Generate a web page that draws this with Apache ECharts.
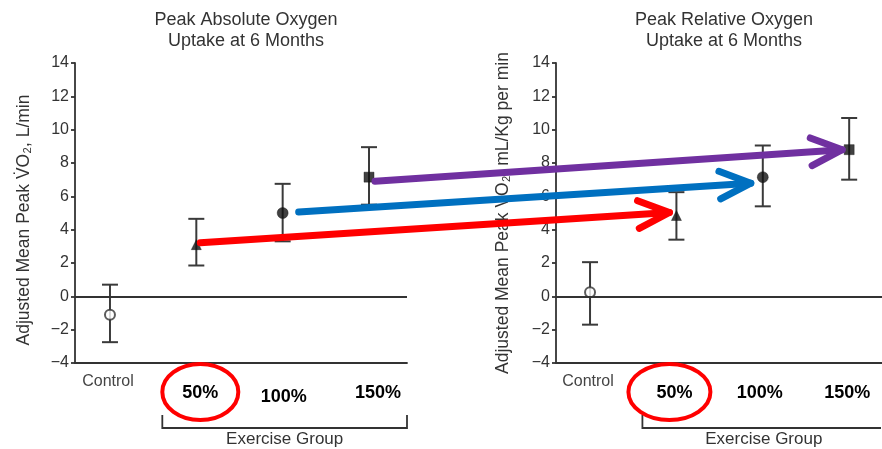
<!DOCTYPE html>
<html>
<head>
<meta charset="utf-8">
<script src="https://cdn.jsdelivr.net/npm/echarts@6/dist/echarts.min.js"></script>
<style>
  html, body { margin: 0; padding: 0; background: #fff; }
  #chart { width: 882px; height: 449px; }
</style>
</head>
<body>
<div id="chart"></div>
<script>
// Groups along the x axis
const groups = ['Control', '50%', '100%', '150%'];

// Peak absolute oxygen uptake (L/min): adjusted mean and 95% CI
const absMean = [-1.1, 3.1, 5.0, 7.15];
const absLow  = [-2.75, 1.85, 3.3, 5.5];
const absHigh = [0.7, 4.65, 6.75, 8.95];

// Peak relative oxygen uptake (mL/Kg per min): adjusted mean and 95% CI
const relMean = [0.25, 4.85, 7.15, 8.8];
const relLow  = [-1.7, 3.4, 5.4, 7.0];
const relHigh = [2.05, 6.25, 9.05, 10.7];

// y axis scale
const yMin = -4, yMax = 14, yStep = 2;

const FONT = '"Liberation Sans", Arial, Helvetica, sans-serif';
const INK = '#333';
const markerSymbols = ['circle', 'triangle', 'circle', 'rect'];
const markerSizes = [10, 10, 11, 10];

const chart = echarts.init(document.getElementById('chart'), null, { renderer: 'canvas' });

function yAxisDef(gridIndex, name, gap, pad) {
  return {
    type: 'value', gridIndex, min: yMin, max: yMax, interval: yStep,
    name, nameLocation: 'middle', nameGap: gap, nameRotate: 90,
    nameTextStyle: { fontFamily: FONT, fontSize: 17.5, color: INK, padding: pad },
    axisLine: { show: true, onZero: false, lineStyle: { color: INK, width: 1.8 } },
    axisTick: { show: true, length: 4, lineStyle: { color: INK, width: 1.8 } },
    axisLabel: {
      fontFamily: FONT, fontSize: 16, color: INK, margin: 6,
      formatter: v => String(v).replace('-', '\u2212')
    },
    splitLine: { show: false }
  };
}

function xAxisDef(gridIndex, min, max) {
  return {
    type: 'value', gridIndex, min, max,
    axisLine: { show: true, onZero: false, lineStyle: { color: INK, width: 1.8 } },
    axisTick: { show: false }, axisLabel: { show: false }, splitLine: { show: false }
  };
}

function errorSeries(idx, low, high) {
  return {
    type: 'custom', xAxisIndex: idx, yAxisIndex: idx, silent: true, z: 2,
    data: low.map((l, i) => [i, l, high[i]]),
    encode: { x: 0, y: [1, 2] },
    renderItem(params, api) {
      const x = api.value(0);
      const lo = api.coord([x, api.value(1)]);
      const hi = api.coord([x, api.value(2)]);
      const w = 8;
      const st = { stroke: '#3a3a3a', lineWidth: 2 };
      return {
        type: 'group',
        children: [
          { type: 'line', shape: { x1: lo[0], y1: lo[1], x2: hi[0], y2: hi[1] }, style: st },
          { type: 'line', shape: { x1: hi[0] - w, y1: hi[1], x2: hi[0] + w, y2: hi[1] }, style: st },
          { type: 'line', shape: { x1: lo[0] - w, y1: lo[1], x2: lo[0] + w, y2: lo[1] }, style: st }
        ]
      };
    }
  };
}

function markerSeries(idx, mean) {
  return {
    type: 'scatter', xAxisIndex: idx, yAxisIndex: idx, silent: true, z: 3,
    data: mean.map((v, i) => ({
      value: [i, v],
      symbol: markerSymbols[i],
      symbolSize: markerSizes[i],
      itemStyle: i === 0
        ? { color: '#fff', borderColor: INK, borderWidth: 2 }
        : { color: '#111', borderColor: '#111', borderWidth: 0.5 }
    })),
    markLine: {
      silent: true, symbol: 'none', label: { show: false },
      lineStyle: { color: INK, width: 1.8, type: 'solid' },
      data: [{ yAxis: 0 }]
    }
  };
}

chart.setOption({
  animation: false,
  backgroundColor: '#fff',
  title: [
    { text: 'Peak Absolute Oxygen\nUptake at 6 Months', left: 241, top: 5, textAlign: 'center',
      textStyle: { fontFamily: FONT, fontSize: 18, fontWeight: 'normal', color: INK, lineHeight: 21 } },
    { text: 'Peak Relative Oxygen\nUptake at 6 Months', left: 719, top: 5, textAlign: 'center',
      textStyle: { fontFamily: FONT, fontSize: 18, fontWeight: 'normal', color: INK, lineHeight: 21 } }
  ],
  grid: [
    { left: 75, right: 475, top: 63, bottom: 86 },
    { left: 556, right: 0, top: 63, bottom: 86 }
  ],
  xAxis: [xAxisDef(0, -0.405, 3.44), xAxisDef(1, -0.394, 3.38)],
  yAxis: [
    yAxisDef(0, 'Adjusted Mean Peak V\u0307O\u2082, L/min', 42, [0, 14, 0, 0]),
    yAxisDef(1, 'Adjusted Mean Peak V\u0307O\u2082, mL/Kg per min', 44, 0)
  ],
  series: [
    errorSeries(0, absLow, absHigh), markerSeries(0, absMean),
    errorSeries(1, relLow, relHigh), markerSeries(1, relMean)
  ]
});

// ---- annotations placed from the axes' own scales ----
const px = (g, x, y) => chart.convertToPixel({ gridIndex: g }, [x, y]);
const graphics = [];

// group labels under each panel
const labelNudge = [[[0, 0], [4, 0], [1, 4], [9, 0]], [[0, 0], [-2, 0], [-3, 0], [-2, 0]]];
[0, 1].forEach(g => {
  groups.forEach((name, i) => {
    const p = px(g, i, yMin);
    const n = labelNudge[g][i];
    const isCtrl = i === 0;
    graphics.push({
      type: 'text', z: 10,
      x: p[0] - 2 * (isCtrl ? 1 : 0) + n[0], y: p[1] + (isCtrl ? 19 : 30) + n[1],
      style: {
        text: name, fontFamily: FONT,
        fontSize: isCtrl ? 16 : 18, fontWeight: isCtrl ? 'normal' : 'bold',
        fill: isCtrl ? '#444' : '#000', align: 'center', verticalAlign: 'middle'
      }
    });
  });
  // bracket spanning the exercise groups
  const a = px(g, 1, yMin);
  const rightEdge = g === 0 ? px(g, 3.44, yMin)[0] : 881;
  const bx = a[0] - 34, by = a[1] + 65;
  graphics.push({
    type: 'polyline', z: 10,
    shape: { points: g === 0
      ? [[bx, by - 13], [bx, by], [rightEdge, by], [rightEdge, by - 13]]
      : [[bx, by - 13], [bx, by], [rightEdge, by]] },
    style: { stroke: INK, lineWidth: 1.8, fill: null }
  });
  graphics.push({
    type: 'text', z: 10, x: px(g, 2, yMin)[0] + (g === 0 ? 2 : 1), y: by + 11,
    style: { text: 'Exercise Group', fontFamily: FONT, fontSize: 17, fill: INK,
      align: 'center', verticalAlign: 'middle' }
  });
  // red ring around the 50% label
  const r = px(g, 1, yMin);
  graphics.push({
    type: 'ellipse', z: 11,
    shape: { cx: r[0] + (g === 0 ? 4 : -7), cy: r[1] + 29, rx: g === 0 ? 38 : 41, ry: 28 },
    style: { stroke: '#ff0000', lineWidth: 4, fill: null }
  });
});

// arrows linking each exercise group across the two panels
function arrow(from, to, color) {
  const dx = to[0] - from[0], dy = to[1] - from[1];
  const len = Math.hypot(dx, dy);
  const bx = -dx / len, by = -dy / len;
  const th = 24 * Math.PI / 180, L = 34;
  const rot = s => [to[0] + L * (bx * Math.cos(s * th) - by * Math.sin(s * th)),
                    to[1] + L * (bx * Math.sin(s * th) + by * Math.cos(s * th))];
  const st = { stroke: color, lineWidth: 7, lineCap: 'round', lineJoin: 'round', fill: null };
  graphics.push({ type: 'line', z: 20, shape: { x1: from[0], y1: from[1], x2: to[0], y2: to[1] }, style: st });
  graphics.push({ type: 'polyline', z: 20, shape: { points: [rot(1), to, rot(-1)] }, style: st });
}
const shift = (p, ox, oy) => [p[0] + ox, p[1] + oy];
arrow(shift(px(0, 1, absMean[1]), 4, -2), shift(px(1, 1, relMean[1]), -7, -3), '#ff0000');
arrow(shift(px(0, 2, absMean[2]), 16, -1), shift(px(1, 2, relMean[2]), -12, 6), '#0070c0');
arrow(shift(px(0, 3, absMean[3]), 6, 4), shift(px(1, 3, relMean[3]), -7, 0), '#7030a0');

chart.setOption({ graphic: graphics });
</script>
</body>
</html>
